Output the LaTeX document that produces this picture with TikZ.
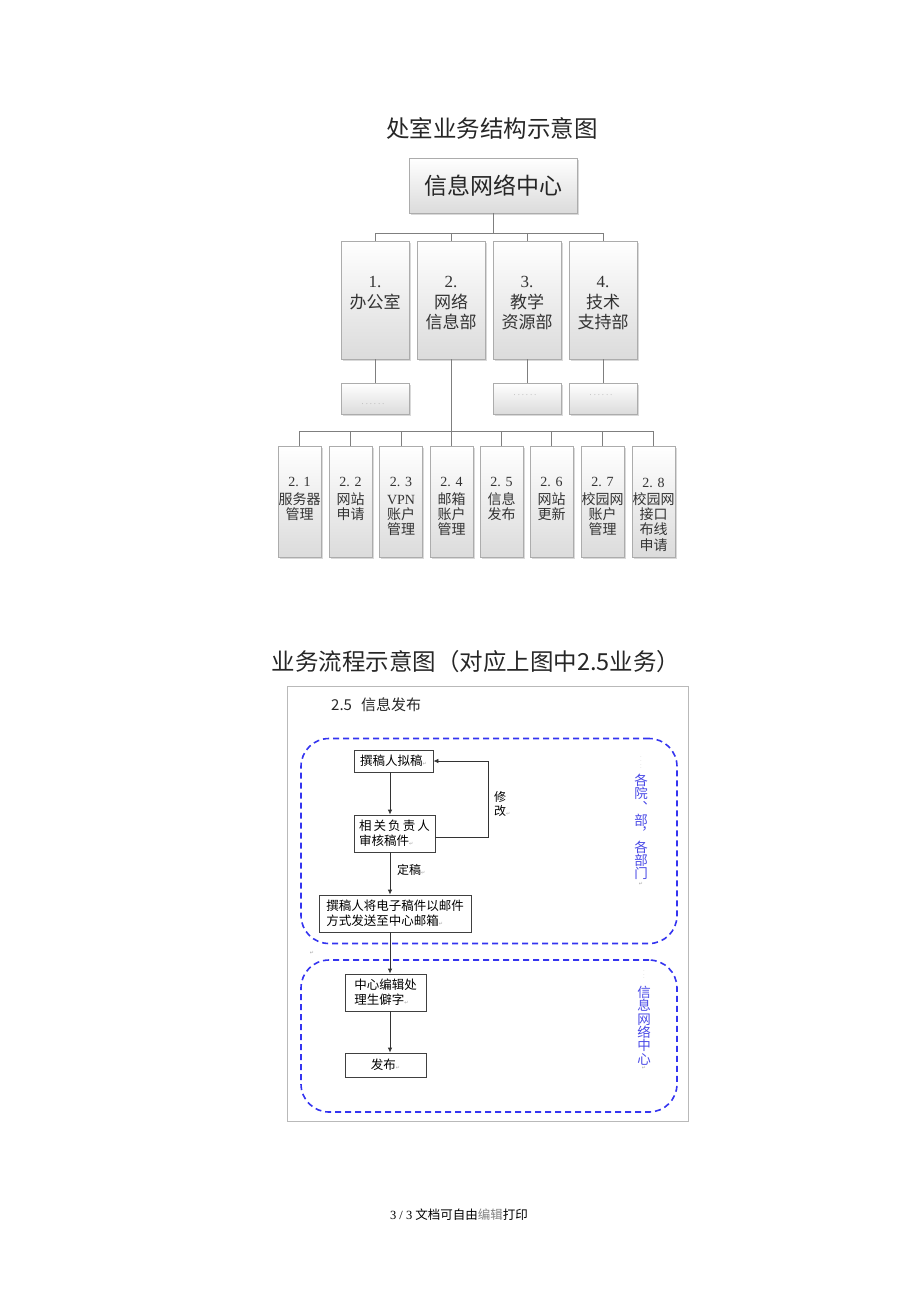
\documentclass[tikz,border=0pt]{standalone}
\usepackage{fontspec}
\setmainfont{Liberation Serif}
\newfontfamily\cjk{Noto Sans CJK SC}
\newfontfamily\djv{DejaVu Sans}
\usetikzlibrary{shadows,arrows.meta}
\definecolor{dblue}{HTML}{3434F0}
\definecolor{tblue}{HTML}{4A4AE6}
\definecolor{lgray}{HTML}{7F7F7F}
\newcommand\retmark{{\djv\fontsize{5}{5}\selectfont\color{gray!70}↵}}
\begin{document}
\begin{tikzpicture}[x=1pt,y=-1pt,
  gbox/.style={draw=gray!65, line width=0.9pt, top color=white, bottom color=black!14,
    drop shadow={shadow xshift=1.5pt, shadow yshift=-1.5pt, opacity=0.3}, inner sep=0pt},
  conn/.style={draw=lgray, line width=0.9pt},
  lvtwo/.style={anchor=north, inner sep=0pt, align=center, text=black!80, font=\cjk\fontsize{17}{19.5}\selectfont},
  lvthree/.style={anchor=north, inner sep=0pt, align=center, text=black!80, font=\cjk\fontsize{14}{15.3}\selectfont},
  dots/.style={inner sep=0pt, text=gray!80, font=\rmfamily\fontsize{7}{7}\selectfont},
  ttl/.style={inner sep=0pt, text=black!85, font=\cjk\fontsize{23.5}{24}\selectfont},
  zone/.style={draw=dblue, line width=1.6pt, dash pattern=on 6pt off 4pt, rounded corners=28pt, inner sep=0pt},
  fbox/.style={draw=black!75, line width=0.8pt, fill=white, inner sep=0pt, font=\cjk\fontsize{12.5}{15}\selectfont},
  arr/.style={draw=black!80, line width=0.8pt, -{Latex[length=5pt,width=4.5pt]}},
  vtxt/.style={inner sep=0pt, align=center, text=tblue, font=\cjk\fontsize{13.5}{13.3}\selectfont},
  lbl/.style={inner sep=0pt, font=\cjk\fontsize{12}{14}\selectfont, align=left}
]
\path[use as bounding box] (0,0) rectangle (920,1302);

% ---------- Part 1: structure ----------
\node[ttl] (t1) at (492,128) {处室业务结构示意图};

\node[gbox, minimum width=168, minimum height=55, font=\cjk\fontsize{23}{23}\selectfont, text=black!85] (top) at (493,185.5) {信息网络中心};

\node[gbox, minimum width=68, minimum height=118] (b1) at (375,300) {};
\node[gbox, minimum width=68, minimum height=118] (b2) at (451,300) {};
\node[gbox, minimum width=68, minimum height=118] (b3) at (527,300) {};
\node[gbox, minimum width=68, minimum height=118] (b4) at (603,300) {};
\node[lvtwo] (b1t) at (375,276.5) {{\rmfamily 1.}\\[1.5pt]办公室};
\node[lvtwo] (b2t) at (451,276.5) {{\rmfamily 2.}\\[1.5pt]网络\\信息部};
\node[lvtwo] (b3t) at (527,276.5) {{\rmfamily 3.}\\[1.5pt]教学\\资源部};
\node[lvtwo] (b4t) at (603,276.5) {{\rmfamily 4.}\\[1.5pt]技术\\支持部};

\node[gbox, minimum width=68, minimum height=31] (s1) at (375,398.5) {};
\node[gbox, minimum width=68, minimum height=31] (s3) at (527,398.5) {};
\node[gbox, minimum width=68, minimum height=31] (s4) at (603,398.5) {};
\node[dots] (s1t) at (373,404) {. . . . . .};
\node[dots] (s3t) at (525,395) {. . . . . .};
\node[dots] (s4t) at (601,395) {. . . . . .};

\coordinate (j1) at (493,233);
\draw[conn] (top.south) -- (j1);
\draw[conn] (b1.north) -- (b1.north |- j1) -- (b4.north |- j1) -- (b4.north);
\draw[conn] (b2.north) -- (b2.north |- j1);
\draw[conn] (b3.north) -- (b3.north |- j1);
\draw[conn] (b1.south) -- (s1.north);
\draw[conn] (b3.south) -- (s3.north);
\draw[conn] (b4.south) -- (s4.north);

\node[gbox, minimum width=43, minimum height=111] (c1) at (299.5,501.5) {};
\node[gbox, minimum width=43, minimum height=111] (c2) at (350.5,501.5) {};
\node[gbox, minimum width=43, minimum height=111] (c3) at (401,501.5) {};
\node[gbox, minimum width=43, minimum height=111] (c4) at (451.5,501.5) {};
\node[gbox, minimum width=43, minimum height=111] (c5) at (501.5,501.5) {};
\node[gbox, minimum width=43, minimum height=111] (c6) at (551.5,501.5) {};
\node[gbox, minimum width=43, minimum height=111] (c7) at (602.5,501.5) {};
\node[gbox, minimum width=43, minimum height=111] (c8) at (653.5,501.5) {};
\node[lvthree] (c1t) at (299.5,477.5) {{\rmfamily 2. 1}\\[2pt]服务器\\管理};
\node[lvthree] (c2t) at (350.5,477.5) {{\rmfamily 2. 2}\\[2pt]网站\\申请};
\node[lvthree] (c3t) at (401,477.5) {{\rmfamily 2. 3}\\[2pt]{\rmfamily VPN}\\账户\\管理};
\node[lvthree] (c4t) at (451.5,477.5) {{\rmfamily 2. 4}\\[2pt]邮箱\\账户\\管理};
\node[lvthree] (c5t) at (501.5,477.5) {{\rmfamily 2. 5}\\[2pt]信息\\发布};
\node[lvthree] (c6t) at (551.5,477.5) {{\rmfamily 2. 6}\\[2pt]网站\\更新};
\node[lvthree] (c7t) at (602.5,477.5) {{\rmfamily 2. 7}\\[2pt]校园网\\账户\\管理};
\node[lvthree] (c8t) at (653.5,477.5) {{\rmfamily 2. 8}\\[2pt]校园网\\接口\\布线\\申请};

\coordinate (j2) at (451,431);
\draw[conn] (b2.south) -- (j2);
\draw[conn] (c1.north) -- (c1.north |- j2) -- (c8.north |- j2) -- (c8.north);
\foreach \i in {2,...,7} { \draw[conn] (c\i.north) -- (c\i.north |- j2); }

% ---------- Part 2: flow ----------
\node[ttl] (t2) at (476,662) {业务流程示意图（对应上图中2.5业务）};

\node[draw=gray!55, line width=0.8pt, minimum width=401, minimum height=435, inner sep=0pt] (frame) at (487.5,903.5) {};
\node[anchor=west, inner sep=0pt, font=\cjk\fontsize{15}{16}\selectfont, text=black!85] (hdr) at (331,705) {2.5\hspace{9pt}信息发布};

\node[zone, minimum width=376, minimum height=205] (z1) at (489,841) {};
\node[zone, minimum width=376, minimum height=152] (z2) at (489,1036) {};

\node[fbox, minimum width=79, minimum height=22] (f1) at (393.5,761) {撰稿人拟稿\retmark};
\node[fbox, minimum width=81, minimum height=37, align=left] (f2) at (394.5,833.5) {相\,关\,负\,责\,人\\审核稿件\retmark};
\node[fbox, minimum width=152, minimum height=37, align=left] (f3) at (395,913.5) {撰稿人将电子稿件以邮件\\方式发送至中心邮箱\retmark};
\node[fbox, minimum width=81, minimum height=37, align=left] (f4) at (385.5,992.5) {中心编辑处\\理生僻字\retmark};
\node[fbox, minimum width=81, minimum height=24] (f5) at (385.5,1065) {发布\retmark};

\coordinate (ax) at (390,0);
\coordinate (lp) at (488,0);
\draw[arr] (f1.south -| ax) -- (f2.north -| ax);
\draw[arr] (f2.south -| ax) -- (f3.north -| ax);
\draw[arr] (f3.south -| ax) -- (f4.north -| ax);
\draw[arr] (f4.south -| ax) -- (f5.north -| ax);
\draw[arr] ([yshift=-3.5pt]f2.east) -| (lp |- f1.east) -- (f1.east);

\node[lbl, anchor=north west] (lx) at (494,791) {修\\改\retmark};
\node[lbl, anchor=west] (ld) at (397,870) {定稿\retmark};

\node[inner sep=0pt, align=center, text=gray!70, font=\djv\fontsize{4}{3.6}\selectfont] (v1d) at (641,763) {.\\.\\.\\.};
\node[vtxt, anchor=north] (v1) at (641,774) {各\\院\\︑\\部\\︐\\各\\部\\门};
\node[inner sep=0pt] (v1r) at (641,884) {\retmark};

\node[inner sep=0pt, align=center, text=gray!70, font=\djv\fontsize{4}{3.6}\selectfont] (v2d) at (644,975) {.\\.\\.};
\node[vtxt, anchor=north] (v2) at (644,986) {信\\息\\网\\络\\中\\心};
\node[inner sep=0pt] (v2r) at (644,1068) {\retmark};

\node[inner sep=0pt] (sr) at (312,953) {\retmark};

% ---------- footer ----------
\node[inner sep=0pt, font=\cjk\fontsize{12.5}{13}\selectfont] (foot) at (459,1215) {{\rmfamily 3 / 3 }文档可自由{\color{gray}编辑}打印};
\end{tikzpicture}
\end{document}
